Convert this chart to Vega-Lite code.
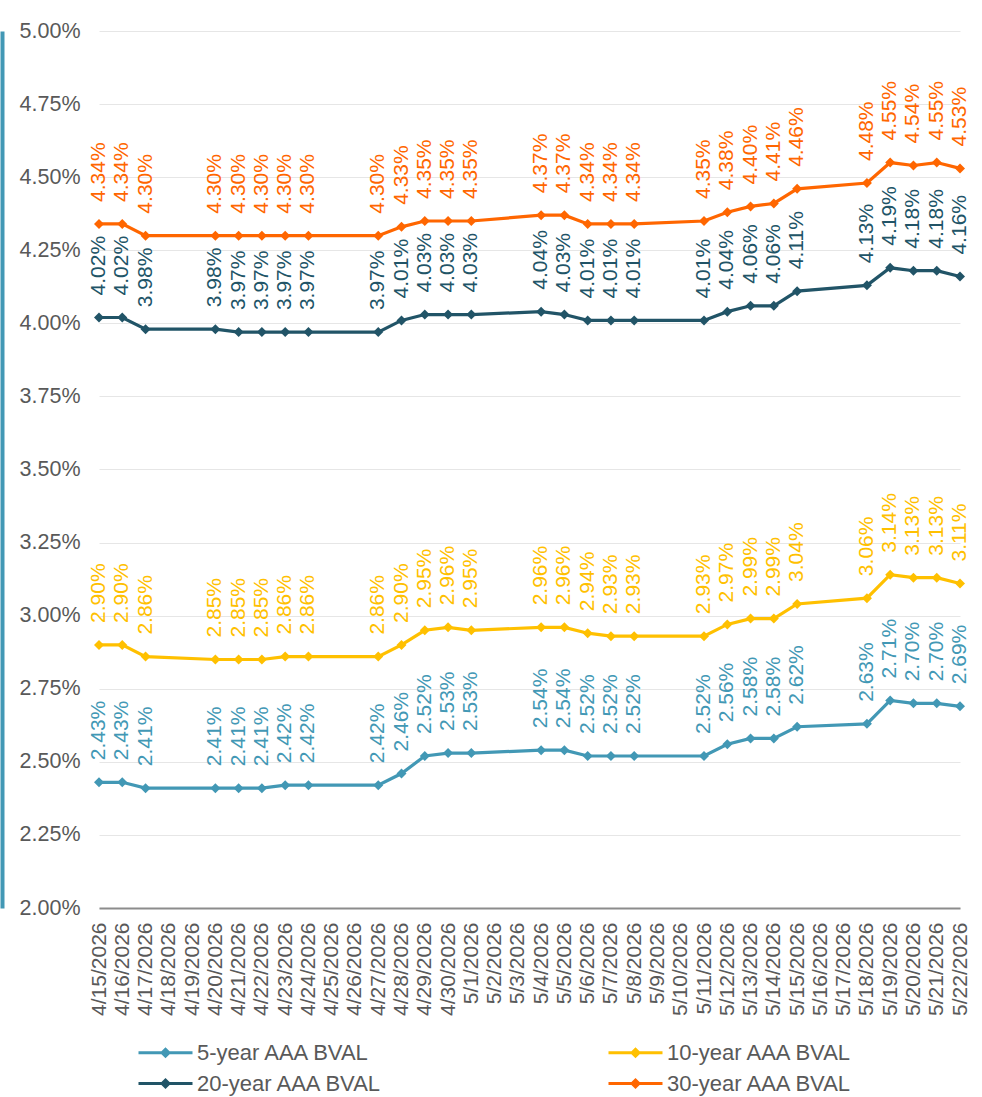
{
  "$schema": "https://vega.github.io/schema/vega-lite/v6.json",
  "width": 861,
  "height": 877,
  "autosize": {"type": "none"},
  "padding": {"left": 99, "top": 31, "right": 22, "bottom": 189},
  "background": "white",
  "config": {"font": "Liberation Sans", "view": {"stroke": null}},
  "data": {
    "values": [
      {"date": "4/15/2026", "5-year AAA BVAL": 0.0243, "10-year AAA BVAL": 0.0290, "20-year AAA BVAL": 0.0402, "30-year AAA BVAL": 0.0434},
      {"date": "4/16/2026", "5-year AAA BVAL": 0.0243, "10-year AAA BVAL": 0.0290, "20-year AAA BVAL": 0.0402, "30-year AAA BVAL": 0.0434},
      {"date": "4/17/2026", "5-year AAA BVAL": 0.0241, "10-year AAA BVAL": 0.0286, "20-year AAA BVAL": 0.0398, "30-year AAA BVAL": 0.0430},
      {"date": "4/20/2026", "5-year AAA BVAL": 0.0241, "10-year AAA BVAL": 0.0285, "20-year AAA BVAL": 0.0398, "30-year AAA BVAL": 0.0430},
      {"date": "4/21/2026", "5-year AAA BVAL": 0.0241, "10-year AAA BVAL": 0.0285, "20-year AAA BVAL": 0.0397, "30-year AAA BVAL": 0.0430},
      {"date": "4/22/2026", "5-year AAA BVAL": 0.0241, "10-year AAA BVAL": 0.0285, "20-year AAA BVAL": 0.0397, "30-year AAA BVAL": 0.0430},
      {"date": "4/23/2026", "5-year AAA BVAL": 0.0242, "10-year AAA BVAL": 0.0286, "20-year AAA BVAL": 0.0397, "30-year AAA BVAL": 0.0430},
      {"date": "4/24/2026", "5-year AAA BVAL": 0.0242, "10-year AAA BVAL": 0.0286, "20-year AAA BVAL": 0.0397, "30-year AAA BVAL": 0.0430},
      {"date": "4/27/2026", "5-year AAA BVAL": 0.0242, "10-year AAA BVAL": 0.0286, "20-year AAA BVAL": 0.0397, "30-year AAA BVAL": 0.0430},
      {"date": "4/28/2026", "5-year AAA BVAL": 0.0246, "10-year AAA BVAL": 0.0290, "20-year AAA BVAL": 0.0401, "30-year AAA BVAL": 0.0433},
      {"date": "4/29/2026", "5-year AAA BVAL": 0.0252, "10-year AAA BVAL": 0.0295, "20-year AAA BVAL": 0.0403, "30-year AAA BVAL": 0.0435},
      {"date": "4/30/2026", "5-year AAA BVAL": 0.0253, "10-year AAA BVAL": 0.0296, "20-year AAA BVAL": 0.0403, "30-year AAA BVAL": 0.0435},
      {"date": "5/1/2026", "5-year AAA BVAL": 0.0253, "10-year AAA BVAL": 0.0295, "20-year AAA BVAL": 0.0403, "30-year AAA BVAL": 0.0435},
      {"date": "5/4/2026", "5-year AAA BVAL": 0.0254, "10-year AAA BVAL": 0.0296, "20-year AAA BVAL": 0.0404, "30-year AAA BVAL": 0.0437},
      {"date": "5/5/2026", "5-year AAA BVAL": 0.0254, "10-year AAA BVAL": 0.0296, "20-year AAA BVAL": 0.0403, "30-year AAA BVAL": 0.0437},
      {"date": "5/6/2026", "5-year AAA BVAL": 0.0252, "10-year AAA BVAL": 0.0294, "20-year AAA BVAL": 0.0401, "30-year AAA BVAL": 0.0434},
      {"date": "5/7/2026", "5-year AAA BVAL": 0.0252, "10-year AAA BVAL": 0.0293, "20-year AAA BVAL": 0.0401, "30-year AAA BVAL": 0.0434},
      {"date": "5/8/2026", "5-year AAA BVAL": 0.0252, "10-year AAA BVAL": 0.0293, "20-year AAA BVAL": 0.0401, "30-year AAA BVAL": 0.0434},
      {"date": "5/11/2026", "5-year AAA BVAL": 0.0252, "10-year AAA BVAL": 0.0293, "20-year AAA BVAL": 0.0401, "30-year AAA BVAL": 0.0435},
      {"date": "5/12/2026", "5-year AAA BVAL": 0.0256, "10-year AAA BVAL": 0.0297, "20-year AAA BVAL": 0.0404, "30-year AAA BVAL": 0.0438},
      {"date": "5/13/2026", "5-year AAA BVAL": 0.0258, "10-year AAA BVAL": 0.0299, "20-year AAA BVAL": 0.0406, "30-year AAA BVAL": 0.0440},
      {"date": "5/14/2026", "5-year AAA BVAL": 0.0258, "10-year AAA BVAL": 0.0299, "20-year AAA BVAL": 0.0406, "30-year AAA BVAL": 0.0441},
      {"date": "5/15/2026", "5-year AAA BVAL": 0.0262, "10-year AAA BVAL": 0.0304, "20-year AAA BVAL": 0.0411, "30-year AAA BVAL": 0.0446},
      {"date": "5/18/2026", "5-year AAA BVAL": 0.0263, "10-year AAA BVAL": 0.0306, "20-year AAA BVAL": 0.0413, "30-year AAA BVAL": 0.0448},
      {"date": "5/19/2026", "5-year AAA BVAL": 0.0271, "10-year AAA BVAL": 0.0314, "20-year AAA BVAL": 0.0419, "30-year AAA BVAL": 0.0455},
      {"date": "5/20/2026", "5-year AAA BVAL": 0.0270, "10-year AAA BVAL": 0.0313, "20-year AAA BVAL": 0.0418, "30-year AAA BVAL": 0.0454},
      {"date": "5/21/2026", "5-year AAA BVAL": 0.0270, "10-year AAA BVAL": 0.0313, "20-year AAA BVAL": 0.0418, "30-year AAA BVAL": 0.0455},
      {"date": "5/22/2026", "5-year AAA BVAL": 0.0269, "10-year AAA BVAL": 0.0311, "20-year AAA BVAL": 0.0416, "30-year AAA BVAL": 0.0453}
    ]
  },
  "transform": [
    {"fold": ["5-year AAA BVAL", "10-year AAA BVAL", "20-year AAA BVAL", "30-year AAA BVAL"], "as": ["series", "value"]}
  ],
  "encoding": {
    "x": {
      "field": "date",
      "type": "ordinal",
      "sort": null,
      "scale": {
        "type": "point",
        "padding": 0,
        "domain": ["4/15/2026", "4/16/2026", "4/17/2026", "4/18/2026", "4/19/2026", "4/20/2026", "4/21/2026", "4/22/2026", "4/23/2026", "4/24/2026", "4/25/2026", "4/26/2026", "4/27/2026", "4/28/2026", "4/29/2026", "4/30/2026", "5/1/2026", "5/2/2026", "5/3/2026", "5/4/2026", "5/5/2026", "5/6/2026", "5/7/2026", "5/8/2026", "5/9/2026", "5/10/2026", "5/11/2026", "5/12/2026", "5/13/2026", "5/14/2026", "5/15/2026", "5/16/2026", "5/17/2026", "5/18/2026", "5/19/2026", "5/20/2026", "5/21/2026", "5/22/2026"]
      },
      "axis": {
        "title": null,
        "labelAngle": -90,
        "labelAlign": "right",
        "labelBaseline": "middle",
        "labelPadding": 14,
        "labelFontSize": 21,
        "labelColor": "#595959",
        "ticks": false,
        "grid": false,
        "domainColor": "#8C8C8C",
        "domainWidth": 2
      }
    },
    "color": {
      "field": "series",
      "type": "nominal",
      "scale": {
        "domain": ["5-year AAA BVAL", "10-year AAA BVAL", "20-year AAA BVAL", "30-year AAA BVAL"],
        "range": ["#4298B5", "#FFC000", "#215467", "#FF6600"]
      },
      "legend": {
        "orient": "none",
        "legendX": 38,
        "legendY": 1010,
        "direction": "horizontal",
        "columns": 2,
        "title": null,
        "labelFontSize": 22,
        "labelColor": "#595959",
        "labelLimit": 500,
        "labelOffset": 20,
        "symbolType": "M-2.7,0L2.7,0M-0.35,0L0,-0.35L0.35,0L0,0.35Z",
        "symbolSize": 400,
        "symbolOffset": 17,
        "symbolStrokeWidth": 3,
        "columnPadding": 219,
        "rowPadding": 8,
        "encode": {
          "symbols": {
            "update": {
              "fill": {"scale": "color", "field": "value"},
              "stroke": {"scale": "color", "field": "value"},
              "opacity": {"value": 1}
            }
          }
        }
      }
    }
  },
  "layer": [
    {
      "mark": {"type": "line", "strokeWidth": 3.2},
      "encoding": {
        "y": {
          "field": "value",
          "type": "quantitative",
          "scale": {"domain": [0.02, 0.05], "nice": false, "zero": false},
          "axis": {
            "title": null,
            "values": [0.02, 0.0225, 0.025, 0.0275, 0.03, 0.0325, 0.035, 0.0375, 0.04, 0.0425, 0.045, 0.0475, 0.05],
            "format": ".2%",
            "labelFontSize": 21.5,
            "labelColor": "#595959",
            "labelPadding": 19,
            "ticks": false,
            "domain": false,
            "grid": true,
            "gridColor": "#E6E6E6",
            "gridWidth": 1
          }
        }
      }
    },
    {
      "mark": {"type": "point", "shape": "diamond", "filled": true, "size": 100, "opacity": 1},
      "encoding": {
        "y": {"field": "value", "type": "quantitative", "axis": null}
      }
    },
    {
      "mark": {"type": "text", "angle": 270, "align": "left", "baseline": "middle", "dx": 22, "fontSize": 21},
      "encoding": {
        "y": {
          "field": "value",
          "type": "quantitative",
          "axis": {
            "orient": "left",
            "offset": 97,
            "title": null,
            "labels": false,
            "ticks": false,
            "grid": false,
            "domain": true,
            "domainColor": "#4298B5",
            "domainWidth": 4
          }
        },
        "text": {"field": "value", "type": "quantitative", "format": ".2%"}
      }
    }
  ],
  "resolve": {"axis": {"y": "independent"}}
}
